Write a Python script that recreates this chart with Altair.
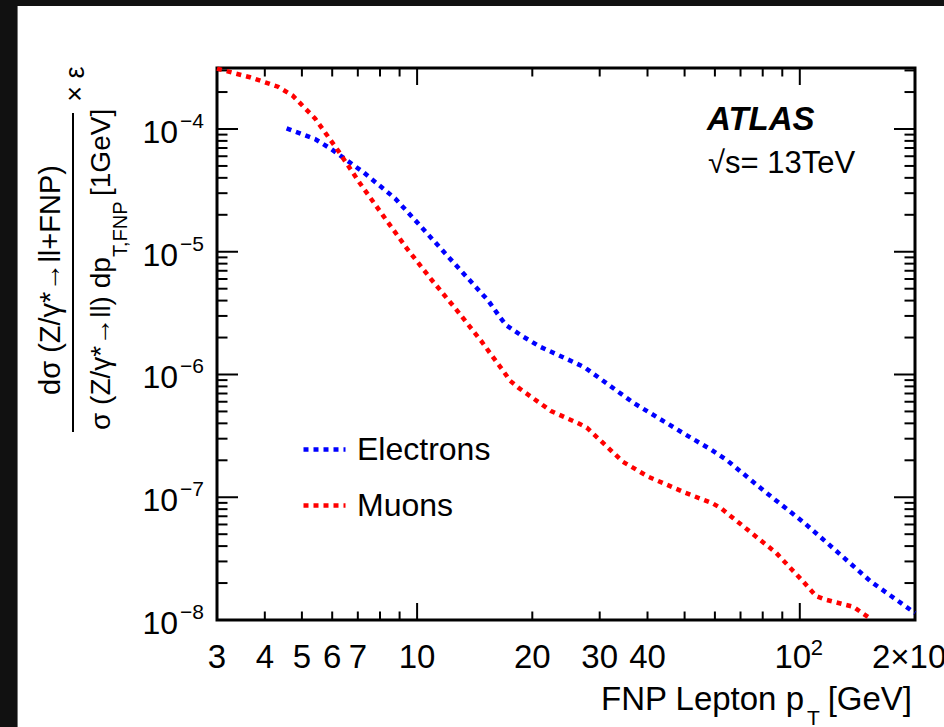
import altair as alt
import pandas as pd

# ---------------- data ----------------
ele_pt = [4.56, 5.41, 5.98, 7.26, 8.76, 9.88, 12.06, 15.35, 16.47, 17.07, 18.80, 20.95,
          26.03, 27.47, 36.72, 50.13, 58.29, 64.42, 81.13, 102.6, 122.3, 153.5, 200.0]
ele_val = [1.01e-4, 8.29e-5, 6.83e-5, 4.41e-5, 2.72e-5, 1.81e-5, 9.11e-6, 3.99e-6, 2.92e-6,
           2.53e-6, 2.06e-6, 1.685e-6, 1.234e-6, 1.136e-6, 5.89e-7, 3.26e-7, 2.47e-7,
           2.01e-7, 1.11e-7, 6.2e-8, 3.84e-8, 2.05e-8, 1.14e-8]

mu_pt = [3.0, 3.66, 4.33, 4.73, 5.41, 6.22, 7.09, 8.16, 9.39, 10.88, 12.69, 14.75, 16.97,
         17.49, 18.39, 22.38, 26.39, 27.75, 30.24, 34.46, 40.2, 50.13, 59.1, 62.25, 71.93,
         86.67, 102.2, 110.2, 116.4, 138.0, 152.6]
mu_val = [3.1e-4, 2.64e-4, 2.21e-4, 1.87e-4, 1.22e-4, 6.65e-5, 3.61e-5, 1.96e-5, 1.07e-5,
          5.97e-6, 3.35e-6, 1.85e-6, 1.02e-6, 8.9e-7, 7.81e-7, 5.04e-7, 4.0e-7, 3.69e-7,
          2.87e-7, 1.95e-7, 1.47e-7, 1.09e-7, 8.93e-8, 8.13e-8, 5.65e-8, 3.53e-8, 2.05e-8,
          1.57e-8, 1.47e-8, 1.28e-8, 1.03e-8]

series_names = ["Electrons", "Muons"]
series_colors = ["#0000ff", "#ff0000"]

y_major = [1e-8, 1e-7, 1e-6, 1e-5, 1e-4]
y_exp = ["\u22128", "\u22127", "\u22126", "\u22125", "\u22124"]
y_minor = [k * 10.0 ** e for e in range(-8, -4) for k in range(2, 10)] + [2e-4, 3e-4]
x_major = [10, 100]
x_minor = [4, 5, 6, 7, 8, 9, 20, 30, 40, 50, 60, 70, 80, 90]
x_lab_vals = [3, 4, 5, 6, 7, 10, 20, 30, 40]
x_lab_text = ["3", "4", "5", "6", "7", "10", "20", "30", "40"]

# ---------------- layout ----------------
W, H = 698, 552
FONT = "Liberation Sans"
xs = alt.Scale(type="log", domain=[3, 200], nice=False)
ys = alt.Scale(type="log", domain=[1e-8, 3.14e-4], nice=False)
one = pd.DataFrame({"a": [0]})

df = pd.DataFrame({
    "pt": ele_pt + mu_pt,
    "val": ele_val + mu_val,
    "s": [series_names[0]] * len(ele_pt) + [series_names[1]] * len(mu_pt),
})

lines = alt.Chart(df).mark_line(strokeWidth=4.5, strokeDash=[5, 5], strokeCap="butt").encode(
    x=alt.X("pt:Q", scale=xs, axis=None),
    y=alt.Y("val:Q", scale=ys, axis=None),
    color=alt.Color("s:N", scale=alt.Scale(domain=series_names, range=series_colors),
                    legend=alt.Legend(title=None, orient="none", legendX=84, legendY=358,
                                      symbolType="stroke", symbolSize=1764,
                                      symbolStrokeWidth=4.5, symbolDash=[5, 5],
                                      labelFontSize=32, labelFont=FONT, labelColor="black",
                                      rowPadding=16, labelOffset=9, padding=0,
                                      labelLimit=400)),
)


def yticks(vals, length, side):
    d = pd.DataFrame({"v": vals})
    x0, x1 = (0, length) if side == "left" else (W, W - length)
    return alt.Chart(d).mark_rule(color="black", strokeWidth=2).encode(
        y=alt.Y("v:Q", scale=ys, axis=None), x=alt.value(x0), x2=alt.value(x1))


def xticks(vals, length, side):
    d = pd.DataFrame({"v": vals})
    y0, y1 = (H, H - length) if side == "bottom" else (0, length)
    return alt.Chart(d).mark_rule(color="black", strokeWidth=2).encode(
        x=alt.X("v:Q", scale=xs, axis=None), y=alt.value(y0), y2=alt.value(y1))


ticks = [
    yticks(y_major, 21, "left"), yticks(y_minor, 10.5, "left"),
    yticks(y_major, 21, "right"), yticks(y_minor, 10.5, "right"),
    xticks(x_major, 17, "bottom"), xticks(x_minor, 8.5, "bottom"),
    xticks(x_major, 17, "top"), xticks(x_minor, 8.5, "top"),
]

# y tick labels 10^n
ylab_df = pd.DataFrame({"v": y_major, "exp": y_exp})
ylab = alt.Chart(ylab_df).mark_text(align="right", baseline="alphabetic", fontSize=32,
                                   font=FONT, dy=14, color="black").encode(
    y=alt.Y("v:Q", scale=ys, axis=None), x=alt.value(-39), text=alt.value("10"))
ylab_exp = alt.Chart(ylab_df).mark_text(align="left", baseline="alphabetic", fontSize=21,
                                       font=FONT, dy=-1, color="black").encode(
    y=alt.Y("v:Q", scale=ys, axis=None), x=alt.value(-37), text="exp:N")

# x tick labels
xlab_df = pd.DataFrame({"v": x_lab_vals, "t": x_lab_text})
xlab = alt.Chart(xlab_df).mark_text(align="center", baseline="alphabetic", fontSize=33,
                                   font=FONT, color="black").encode(
    x=alt.X("v:Q", scale=xs, axis=None), y=alt.value(600), text="t:N")
x100 = alt.Chart(pd.DataFrame({"v": [100]})).mark_text(
    align="center", baseline="alphabetic", fontSize=33, font=FONT, dx=-7, color="black").encode(
    x=alt.X("v:Q", scale=xs, axis=None), y=alt.value(600), text=alt.value("10"))
x100e = alt.Chart(pd.DataFrame({"v": [100]})).mark_text(
    align="left", baseline="alphabetic", fontSize=22, font=FONT, dx=11, dy=-13, color="black").encode(
    x=alt.X("v:Q", scale=xs, axis=None), y=alt.value(600), text=alt.value("2"))
x200 = alt.Chart(pd.DataFrame({"v": [200]})).mark_text(
    align="left", baseline="alphabetic", fontSize=33, font=FONT, dx=-43, color="black").encode(
    x=alt.X("v:Q", scale=xs, axis=None), y=alt.value(600), text=alt.value("2\u00d710"))


def txt(s, x, y, size, align="left", angle=0, weight="normal", style="normal"):
    return alt.Chart(one).mark_text(align=align, baseline="alphabetic", fontSize=size,
                                    font=FONT, angle=angle, fontWeight=weight,
                                    fontStyle=style, color="black").encode(
        x=alt.value(x), y=alt.value(y), text=alt.value(s))


texts = [
    # x title
    txt("FNP Lepton p", 587, 642, 33, align="right"),
    txt("T", 590, 657, 21),
    txt("[GeV]", 695, 642, 33, align="right"),
    # y title (rotated fraction)
    txt("d\u03c3 (Z/\u03b3*\u2192ll+FNP)", -157, 212, 29, align="center", angle=270),
    txt("\u03c3 (Z/\u03b3*\u2192ll) dp", -107, 362, 28, align="left", angle=270),
    txt("T,FNP", -90, 189, 20, align="left", angle=270),
    txt("[1GeV]", -107, 128, 28, align="left", angle=270),
    txt("\u00d7 \u03b5", -133, 16, 27, align="center", angle=270),
    # labels
    txt("ATLAS", 490, 62, 33, weight="bold", style="italic"),
    txt("\u221as= 13TeV", 491, 105, 31),
]

frac_bar = alt.Chart(one).mark_rule(color="black", strokeWidth=2).encode(
    x=alt.value(-144), y=alt.value(45), y2=alt.value(364))

# dark screenshot border strips (top and left)
dark_left = alt.Chart(one).mark_rect(color="#111111").encode(
    x=alt.value(-217), x2=alt.value(-200), y=alt.value(-68), y2=alt.value(H + 107))
dark_top = alt.Chart(one).mark_rect(color="#111111").encode(
    x=alt.value(-217), x2=alt.value(W + 29), y=alt.value(-68), y2=alt.value(-62))
edge = alt.Chart(one).mark_rule(color="#777777", strokeWidth=1).encode(
    x=alt.value(-199.5), y=alt.value(-62), y2=alt.value(H + 107))

chart = alt.layer(
    dark_left, dark_top, edge, *ticks, lines, ylab, ylab_exp, xlab, x100, x100e, x200,
    frac_bar, *texts
).properties(
    width=W, height=H,
    padding={"left": 217, "top": 68, "right": 29, "bottom": 107},
    autosize="none",
    background="white",
).configure_view(stroke="black", strokeWidth=3)

chart.save("out.html", embed_options={"renderer": "svg", "actions": False})
